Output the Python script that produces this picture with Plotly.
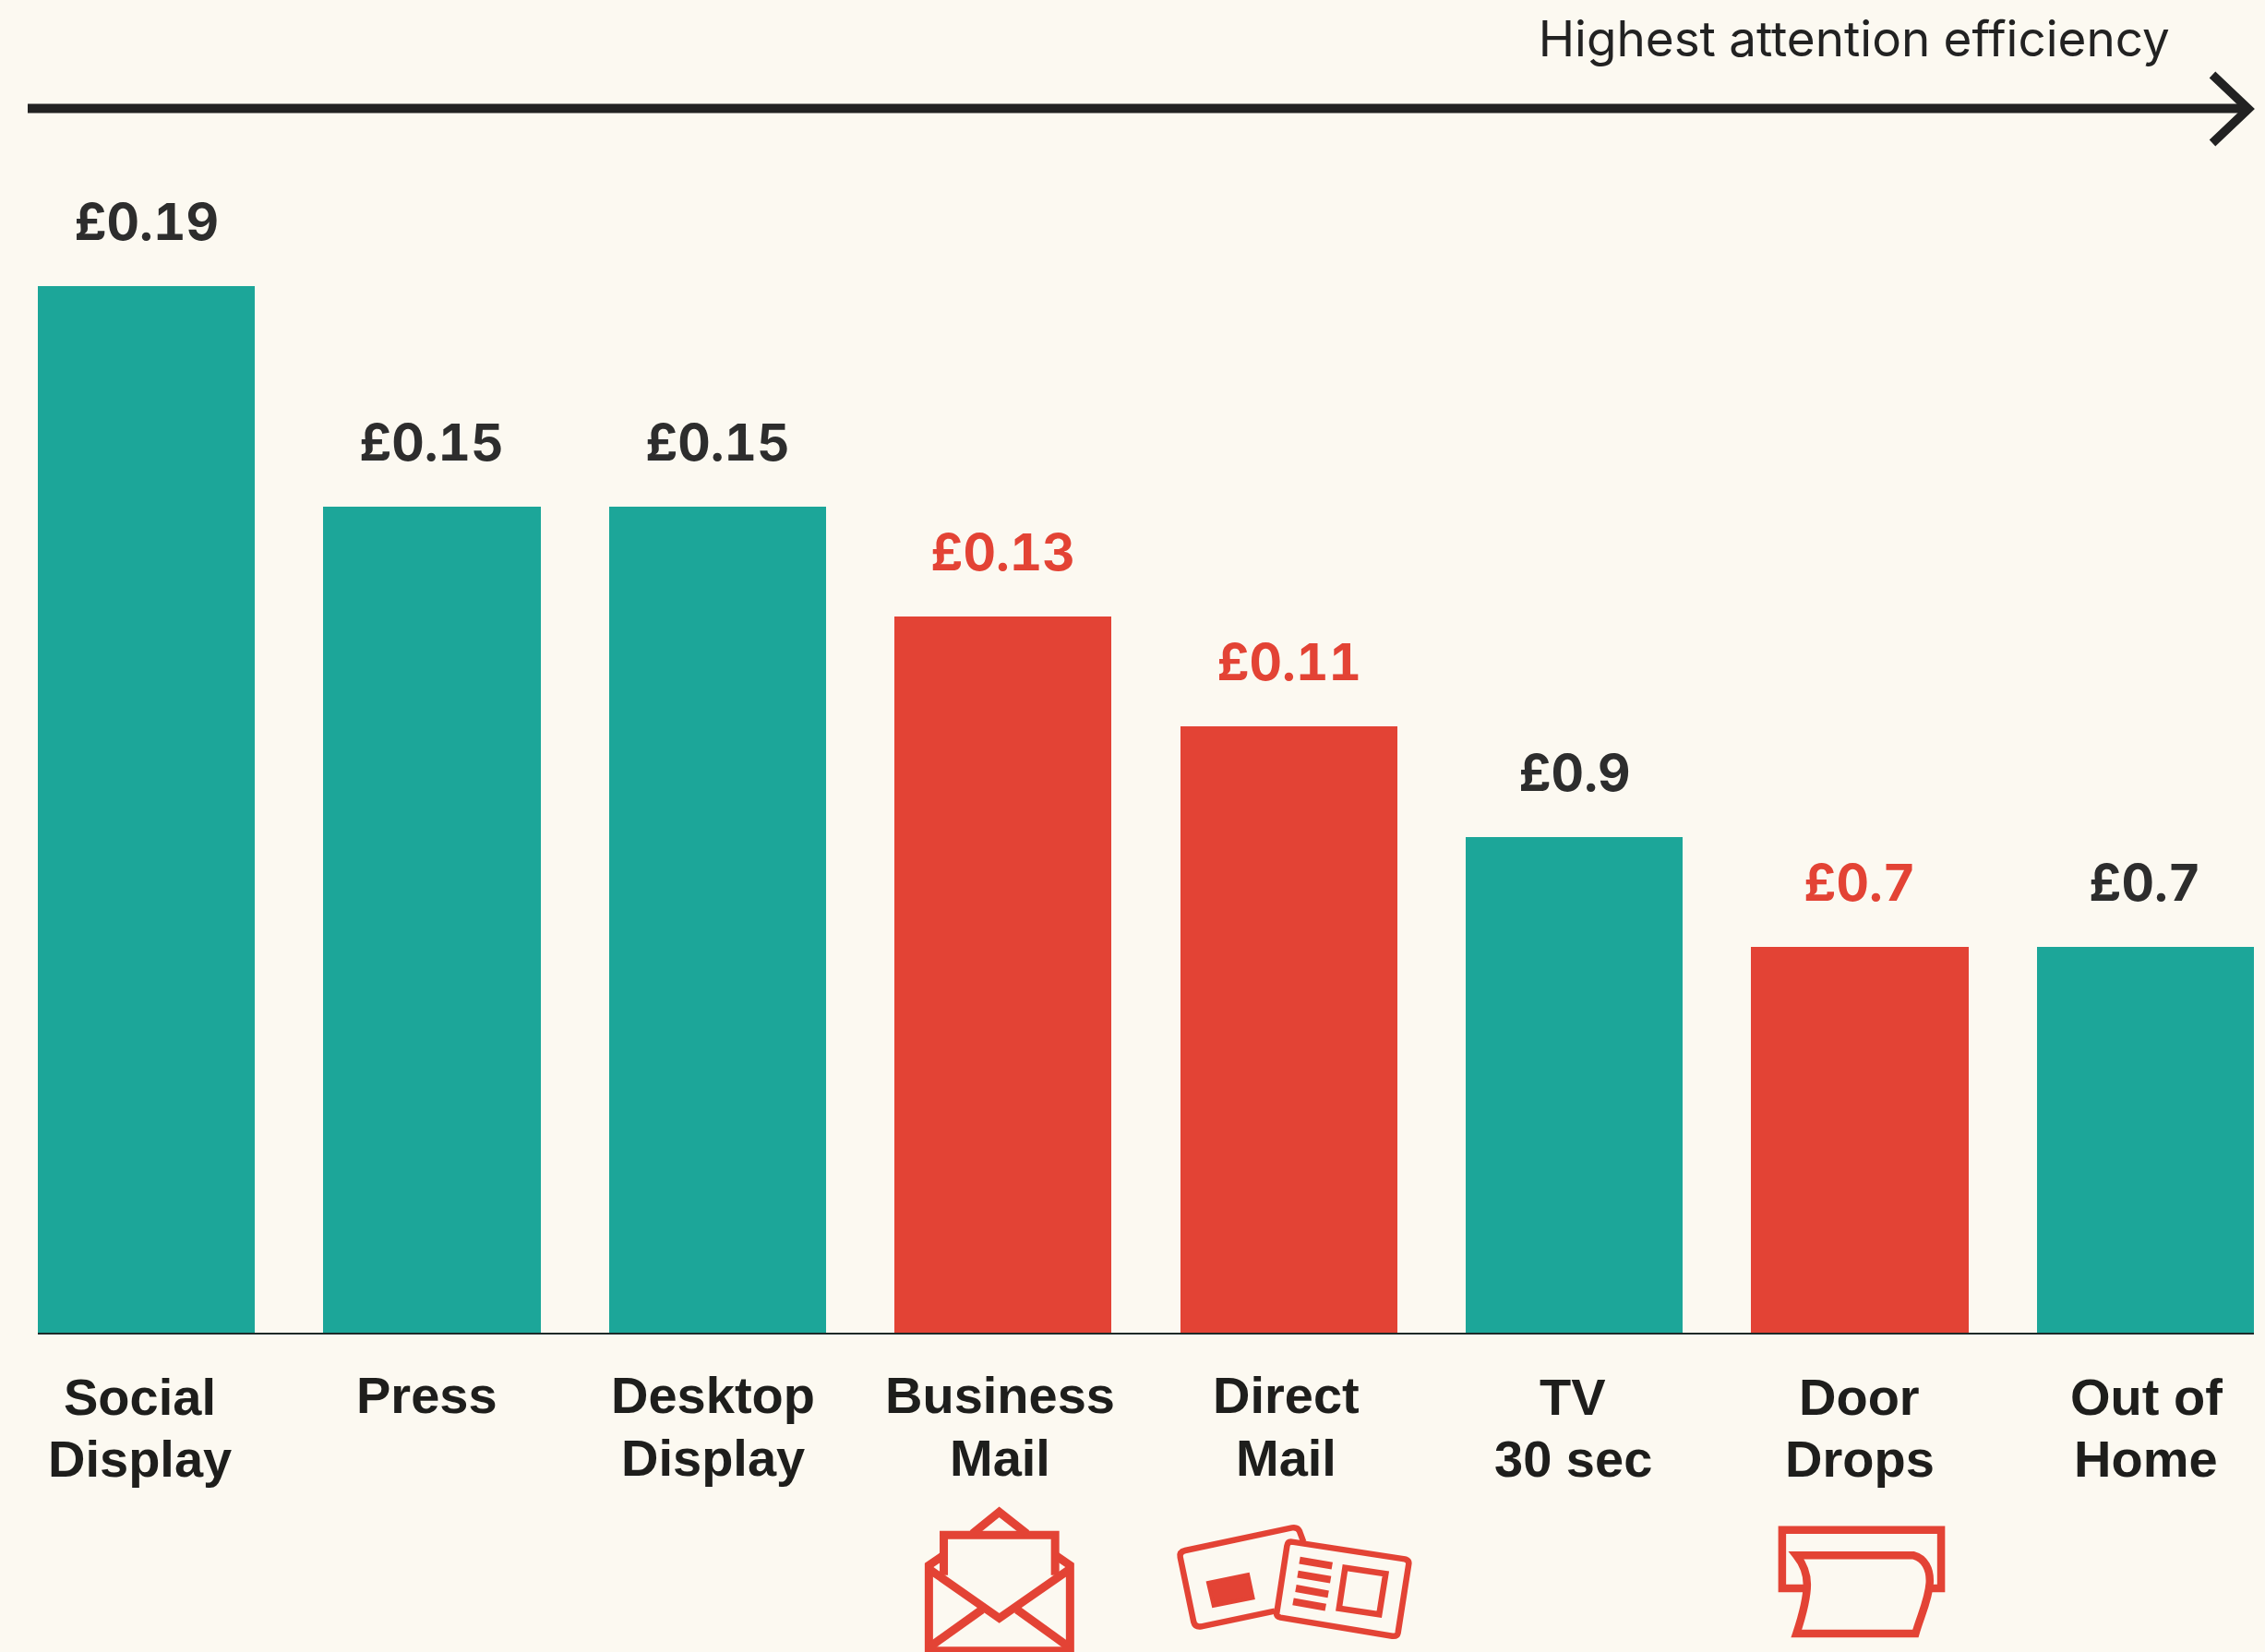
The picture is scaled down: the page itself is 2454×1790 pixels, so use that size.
import plotly.graph_objects as go

categories = ["Social Display", "Press", "Desktop Display", "Business Mail", "Direct Mail", "TV 30 sec", "Door Drops", "Out of Home"]
label_line1 = ["Social", "Press", "Desktop", "Business", "Direct", "TV", "Door", "Out of"]
label_line2 = ["Display", "", "Display", "Mail", "Mail", "30 sec", "Drops", "Home"]
values = [0.19, 0.15, 0.15, 0.13, 0.11, 0.09, 0.07, 0.07]
value_labels = ["£0.19", "£0.15", "£0.15", "£0.13", "£0.11", "£0.9", "£0.7", "£0.7"]
is_mail = [False, False, False, True, True, False, True, False]

W, H = 2454, 1790
TEAL, RED, BG, INK = "#1CA699", "#E34335", "#FCF9F1", "#222222"
FONT = "Liberation Sans"
VALUE_FONT = "Inter"
px_x = lambda v: v / W
px_y = lambda v: 1 - v / H

bar_colors = [RED if m else TEAL for m in is_mail]
text_colors = [RED if m else "#2d2d2d" for m in is_mail]

fig = go.Figure(go.Bar(x=list(range(8)), y=values, marker=dict(color=bar_colors, line_width=0), width=0.76,
                       customdata=categories, hovertemplate="%{customdata}: %{y}<extra></extra>"))

annotations = []
for i in range(8):
    annotations.append(dict(x=i, y=values[i], xref="x", yref="y", text=value_labels[i], showarrow=False,
                            yanchor="bottom", yshift=35,
                            font=dict(family=VALUE_FONT, size=55, color=text_colors[i], weight="bold")))
    nudge = 1.5 if i in (0, 5, 6, 7) else 0
    for line, top in ((label_line1[i], 1478 + nudge), (label_line2[i], 1545.5 + nudge)):
        if line:
            annotations.append(dict(x=i, xref="x", xshift=-7 + 1.1 * i, y=px_y(top), yref="paper", yanchor="top", text=line,
                                    showarrow=False, font=dict(family=FONT, size=56, color="#1e1e1c", weight="bold")))
annotations.append(dict(x=px_x(2353), y=px_y(42), xref="paper", yref="paper", xanchor="right", yanchor="middle",
                        text="Highest attention efficiency", showarrow=False,
                        font=dict(family=VALUE_FONT, size=53, color=INK)))


def path(points, scale_x, scale_y, ox, oy, close=False):
    out = []
    for seg in points:
        cmd, nums = seg[0], seg[1:]
        conv = []
        for a, b in zip(nums[0::2], nums[1::2]):
            conv.append(f"{px_x(ox + a / scale_x):.5f},{px_y(oy + b / scale_y):.5f}")
        out.append(cmd + " ".join(conv))
    return " ".join(out) + (" Z" if close else "")


shapes = []


def stroke(segs, sx, sy, ox, oy, width, fill=None, close=False, color=RED):
    shapes.append(dict(type="path", xref="paper", yref="paper", path=path(segs, sx, sy, ox, oy, close),
                       line=dict(color=color, width=width), fillcolor=fill or "rgba(0,0,0,0)", layer="above"))


# direction arrow
shapes.append(dict(type="line", xref="paper", yref="paper", x0=px_x(30), x1=px_x(2436), y0=px_y(117.5), y1=px_y(117.5),
                   line=dict(color=INK, width=10)))
stroke([("M", 2397, 81), ("L", 2436, 118), ("L", 2397, 155)], 1, 1, 0, 0, 9.5, color=INK)

# envelope icon
E = (1568 / 650, 3, 950, 1600)
stroke([("M", 136, 570), ("L", 136, 288), ("L", 175, 255)], *E, 9)
stroke([("M", 505, 570), ("L", 505, 288), ("L", 466, 255)], *E, 9)
stroke([("M", 136, 300), ("L", 320, 460), ("L", 505, 300)], *E, 9)
stroke([("M", 175, 320), ("L", 175, 190), ("L", 466, 190), ("L", 466, 320)], *E, 9)
stroke([("M", 250, 185), ("L", 320, 115), ("L", 392, 185)], *E, 9)
stroke([("M", 140, 552), ("L", 275, 432)], *E, 9)
stroke([("M", 366, 432), ("L", 500, 552)], *E, 9)
stroke([("M", 136, 566), ("L", 505, 566)], *E, 9)

# postcards icon
stroke([("M", 1040, 437), ("L", 848, 487), ("Q", 832, 490, 828, 472), ("L", 793, 262), ("Q", 790, 245, 806, 240),
        ("L", 1085, 166), ("Q", 1100, 163, 1105, 178), ("L", 1115, 212)], *E, 6.5)
stroke([("M", 866, 345), ("L", 970, 318), ("L", 983, 394), ("L", 880, 420)], *E, 4, fill=RED, close=True)
stroke([("M", 1085, 212), ("L", 1380, 268), ("Q", 1392, 272, 1390, 285), ("L", 1362, 508), ("Q", 1360, 520, 1347, 518),
        ("L", 1055, 458), ("Q", 1044, 455, 1045, 445), ("L", 1072, 225), ("Q", 1074, 210, 1085, 212)], *E, 6.5)
stroke([("M", 1105, 272), ("L", 1190, 290)], *E, 8)
stroke([("M", 1100, 317), ("L", 1186, 335)], *E, 8)
stroke([("M", 1095, 363), ("L", 1180, 382)], *E, 8)
stroke([("M", 1088, 406), ("L", 1173, 425)], *E, 8)
stroke([("M", 1224, 296), ("L", 1330, 316), ("L", 1313, 448), ("L", 1208, 428)], *E, 6.5, close=True)

# door-drop icon
D = (1568 / 604, 3, 1850, 1600)
stroke([("M", 280, 363), ("L", 210, 363), ("L", 210, 173), ("L", 657, 173), ("L", 657, 363), ("L", 625, 363)], *D, 8.5)
stroke([("M", 250, 256), ("L", 580, 256), ("C", 610, 265, 627, 300, 625, 345), ("C", 622, 400, 600, 450, 585, 510),
        ("L", 250, 510), ("C", 270, 440, 280, 390, 280, 350), ("C", 280, 315, 270, 285, 250, 256)], *D, 8.5, close=True)

fig.update_layout(
    width=W, height=H, margin=dict(l=0, r=0, t=0, b=0, pad=0), paper_bgcolor=BG, plot_bgcolor=BG,
    showlegend=False, annotations=annotations, shapes=shapes, bargap=0,
    xaxis=dict(domain=[41 / W, 2442 / W], range=[-0.38, 7.38], showgrid=False, zeroline=False, showticklabels=False,
               ticks="", showline=True, linecolor="#1e2a28", linewidth=2),
    yaxis=dict(domain=[(H - 1444) / H, 1], range=[0, 1444 / 5970], showgrid=False, zeroline=False,
               showticklabels=False, ticks=""),
)
TNUM = ("document.body.style.margin='0';document.body.style.overflow='hidden';"
        "document.querySelectorAll('.annotation-text').forEach(function(t){t.style.fontFeatureSettings='\"tnum\"';});")
fig.write_html("out.html", config=dict(displayModeBar=False), post_script=TNUM)
